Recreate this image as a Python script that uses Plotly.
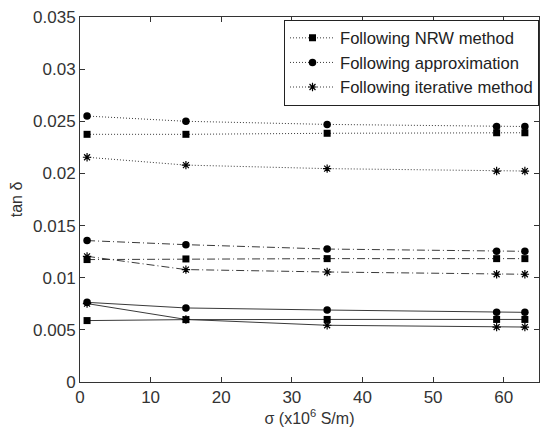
import plotly.graph_objects as go

sigma = [1, 15, 35, 59, 63]

# dotted group
nrw_dot = [0.02375, 0.02375, 0.02385, 0.0239, 0.0239]
app_dot = [0.0255, 0.0250, 0.0247, 0.0245, 0.0245]
itr_dot = [0.02155, 0.0208, 0.02046, 0.02023, 0.02023]

# dash-dot group
nrw_dd = [0.01174, 0.0118, 0.01183, 0.01183, 0.01183]
app_dd = [0.01356, 0.01317, 0.01275, 0.01253, 0.01253]
itr_dd = [0.01205, 0.01078, 0.01055, 0.01033, 0.01033]

# solid group
nrw_s = [0.00589, 0.00598, 0.0060, 0.0060, 0.0060]
app_s = [0.00764, 0.0071, 0.0069, 0.00668, 0.00668]
itr_s = [0.00752, 0.0060, 0.00544, 0.00527, 0.00527]

names = ["Following NRW method", "Following approximation", "Following iterative method"]
x_ticks = [0, 10, 20, 30, 40, 50, 60]
y_ticks = [0, 0.005, 0.01, 0.015, 0.02, 0.025, 0.03, 0.035]
y_labels = ["0", "0.005", "0.01", "0.015", "0.02", "0.025", "0.03", "0.035"]

FONT = "Liberation Sans, Arial, sans-serif"
fig = go.Figure()

def marker(kind):
    if kind == "sq":
        return dict(symbol="square", size=7, color="black")
    if kind == "ci":
        return dict(symbol="circle", size=7.5, color="black")
    return dict(symbol="asterisk-open", size=7, color="black", line=dict(color="black", width=1.2))

groups = [
    ("1px,2px", [nrw_dot, app_dot, itr_dot], True),
    ("8px,3px,1px,3px", [nrw_dd, app_dd, itr_dd], False),
    ("solid", [nrw_s, app_s, itr_s], False),
]
kinds = ["sq", "ci", "st"]
for dash, series, show in groups:
    for i, ys in enumerate(series):
        fig.add_trace(go.Scatter(
            x=sigma, y=ys, mode="lines+markers", name=names[i],
            showlegend=show,
            line=dict(color="#3a3a3a", width=1, dash=dash),
            marker=marker(kinds[i]),
        ))

fig.update_layout(
    width=541, height=432,
    margin=dict(l=80, r=2, t=17, b=50),
    paper_bgcolor="white", plot_bgcolor="white",
    font=dict(family=FONT, size=16, color="#333"),
    showlegend=True,
    legend=dict(
        x=1.0, xanchor="right", y=0.993, yanchor="top",
        bgcolor="white", bordercolor="#222", borderwidth=1,
        font=dict(family=FONT, size=16.6, color="#222"),
        itemwidth=45, tracegroupgap=0,
    ),
)
fig.update_xaxes(
    range=[0, 65], tickvals=x_ticks, ticks="inside", ticklen=5,
    showline=True, linecolor="#333", linewidth=1, mirror="ticks",
    tickcolor="#333", showgrid=False, zeroline=False,
    title=dict(text="σ (x10<sup>6</sup> S/m)", font=dict(size=16), standoff=4),
    tickfont=dict(size=17),
)
fig.update_yaxes(
    range=[0, 0.035], tickvals=y_ticks, ticktext=y_labels, ticks="inside", ticklen=5,
    showline=True, linecolor="#333", linewidth=1, mirror="ticks",
    tickcolor="#333", showgrid=False, zeroline=False,
    title=dict(text="tan δ", font=dict(size=16), standoff=6),
    tickfont=dict(size=17),
)

fig.write_html("out.html")
